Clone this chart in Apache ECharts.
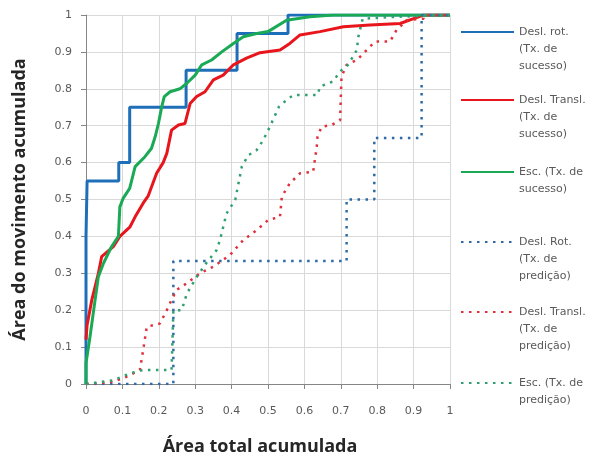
<!DOCTYPE html>
<html>
<head>
<meta charset="utf-8">
<script src="https://cdn.jsdelivr.net/npm/echarts@6/dist/echarts.min.js"></script>
<style>html,body{margin:0;padding:0;background:#fff}#c{width:609px;height:459px}</style>
</head>
<body>
<div id="c"></div>
<script>
// Tick labels
var xTicks = ['0','0.1','0.2','0.3','0.4','0.5','0.6','0.7','0.8','0.9','1'];
var yTicks = ['0','0.1','0.2','0.3','0.4','0.5','0.6','0.7','0.8','0.9','1'];

// Series names
var seriesNames = [
  'Desl. rot.\n(Tx. de\nsucesso)',
  'Desl. Transl.\n(Tx. de\nsucesso)',
  'Esc. (Tx. de\nsucesso)',
  'Desl. Rot.\n(Tx. de\npredição)',
  'Desl. Transl.\n(Tx. de\npredição)',
  'Esc. (Tx. de\npredição)'
];

// Series values [x, y]
var deslRotSucesso = [[0,0],[0,0.4],[0.003,0.4],[0.003,0.55],[0.09,0.55],[0.09,0.6],[0.12,0.6],[0.12,0.75],[0.275,0.75],[0.275,0.85],[0.415,0.85],[0.415,0.95],[0.555,0.95],[0.555,1],[1,1]];

var deslTranslSucesso = [[0,0.12],[0.003,0.16],[0.016,0.228],[0.034,0.30],[0.043,0.345],[0.075,0.372],[0.093,0.40],[0.121,0.426],[0.135,0.453],[0.157,0.49],[0.171,0.51],[0.194,0.571],[0.212,0.6],[0.222,0.625],[0.235,0.688],[0.254,0.702],[0.272,0.706],[0.286,0.76],[0.304,0.779],[0.327,0.792],[0.35,0.824],[0.377,0.837],[0.405,0.865],[0.441,0.883],[0.478,0.898],[0.533,0.905],[0.56,0.923],[0.588,0.946],[0.643,0.955],[0.707,0.968],[0.78,0.973],[0.863,0.977],[0.9,0.99],[0.927,1],[1,1]];

var escSucesso = [[0,0],[0,0.056],[0.011,0.128],[0.025,0.228],[0.034,0.291],[0.048,0.327],[0.07,0.372],[0.089,0.40],[0.093,0.48],[0.102,0.503],[0.12,0.53],[0.135,0.589],[0.162,0.616],[0.18,0.639],[0.19,0.67],[0.199,0.706],[0.208,0.751],[0.215,0.779],[0.231,0.792],[0.258,0.8],[0.277,0.815],[0.3,0.837],[0.318,0.865],[0.345,0.878],[0.373,0.9],[0.405,0.923],[0.432,0.941],[0.469,0.95],[0.5,0.955],[0.551,0.986],[0.615,0.995],[0.68,1],[1,1]];

var deslRotPredicao = [[0,0],[0.24,0],[0.24,0.333],[0.716,0.333],[0.716,0.5],[0.792,0.5],[0.792,0.667],[0.922,0.667],[0.922,1],[1,1]];

var deslTranslPredicao = [[0,0],[0.075,0.006],[0.112,0.02],[0.148,0.038],[0.157,0.092],[0.167,0.155],[0.203,0.164],[0.222,0.2],[0.235,0.228],[0.249,0.255],[0.277,0.273],[0.313,0.3],[0.35,0.318],[0.396,0.35],[0.432,0.39],[0.469,0.417],[0.5,0.444],[0.533,0.453],[0.538,0.508],[0.56,0.544],[0.588,0.571],[0.624,0.575],[0.634,0.643],[0.636,0.67],[0.647,0.697],[0.675,0.702],[0.698,0.715],[0.702,0.833],[0.716,0.865],[0.744,0.878],[0.771,0.905],[0.794,0.928],[0.835,0.928],[0.853,0.959],[0.881,0.986],[0.927,0.99],[0.93,1],[1,1]];

var escPredicao = [[0,0],[0.075,0.01],[0.121,0.029],[0.157,0.038],[0.235,0.038],[0.24,0.2],[0.263,0.2],[0.277,0.245],[0.304,0.29],[0.332,0.33],[0.359,0.363],[0.368,0.39],[0.386,0.462],[0.41,0.499],[0.428,0.589],[0.446,0.62],[0.469,0.634],[0.487,0.661],[0.505,0.697],[0.53,0.751],[0.551,0.77],[0.57,0.783],[0.636,0.783],[0.643,0.806],[0.679,0.82],[0.698,0.847],[0.72,0.865],[0.744,0.905],[0.748,0.94],[0.76,0.99],[0.85,0.995],[1,1]];

var seriesData = [deslRotSucesso, deslTranslSucesso, escSucesso, deslRotPredicao, deslTranslPredicao, escPredicao];
var colors = ['#1f6fb8', '#e8161c', '#1aaa55', '#2e6aa8', '#e0303c', '#2fa06e'];
var dotted = [false, false, false, true, true, true];
var legendIconY = [32, 100, 172, 242, 312, 383];

var chart = echarts.init(document.getElementById('c'), null, {renderer: 'canvas'});

var series = seriesData.map(function (d, i) {
  return {
    name: seriesNames[i],
    type: 'line',
    data: d,
    symbol: 'none',
    showSymbol: false,
    smooth: false,
    z: 2 + i,
    lineStyle: dotted[i]
      ? {color: colors[i], width: 2.5, type: [2.5, 5.5], cap: 'butt'}
      : {color: colors[i], width: 3, type: 'solid'},
    itemStyle: {color: colors[i]},
    emphasis: {disabled: true}
  };
});

var LH = 17;
var legends = seriesNames.map(function (n, i) {
  var lines = n.split('\n').length;
  var total = 2 * lines - 1;
  var prefix = new Array(lines).join('\n');
  return {
    data: [n],
    left: 460,
    top: legendIconY[i] - LH * total / 2,
    padding: 0,
    itemWidth: 53,
    itemHeight: 10,
    itemGap: 0,
    selectedMode: false,
    itemStyle: {opacity: 0},
    formatter: function (name) { return prefix + name; },
    textStyle: {
      fontFamily: 'DejaVu Sans',
      fontSize: 11,
      color: '#595959',
      lineHeight: LH
    }
  };
});

var axisCommon = {
  type: 'value',
  min: 0,
  max: 1,
  interval: 0.1,
  axisLine: {show: true, lineStyle: {color: '#868686', width: 1}},
  axisTick: {show: true, length: 5, lineStyle: {color: '#868686'}},
  splitLine: {show: true, lineStyle: {color: '#d9d9d9', width: 1}},
  nameLocation: 'middle'
};

chart.setOption({
  animation: false,
  backgroundColor: '#ffffff',
  grid: {left: 86, right: 159, top: 15, bottom: 75, containLabel: false, outerBoundsMode: 'none'},
  legend: legends,
  xAxis: Object.assign({}, axisCommon, {
    name: 'Área total acumulada',
    nameGap: 54,
    nameTextStyle: {fontFamily: 'Open Sans', fontWeight: 'bold', fontSize: 18, color: '#262626', padding: [0, 16, 0, 0]},
    axisLabel: {
      margin: 22,
      fontFamily: 'DejaVu Sans', fontSize: 11, color: '#595959',
      formatter: function (v) { return xTicks[Math.round(v * 10)]; }
    }
  }),
  yAxis: Object.assign({}, axisCommon, {
    name: 'Área do movimento acumulada',
    nameGap: 57,
    nameTextStyle: {fontFamily: 'Open Sans', fontWeight: 'bold', fontSize: 18, color: '#262626'},
    axisLabel: {
      margin: 14,
      fontFamily: 'DejaVu Sans', fontSize: 11, color: '#595959',
      formatter: function (v) { return yTicks[Math.round(v * 10)]; }
    }
  }),
  series: series
});
</script>
</body>
</html>
